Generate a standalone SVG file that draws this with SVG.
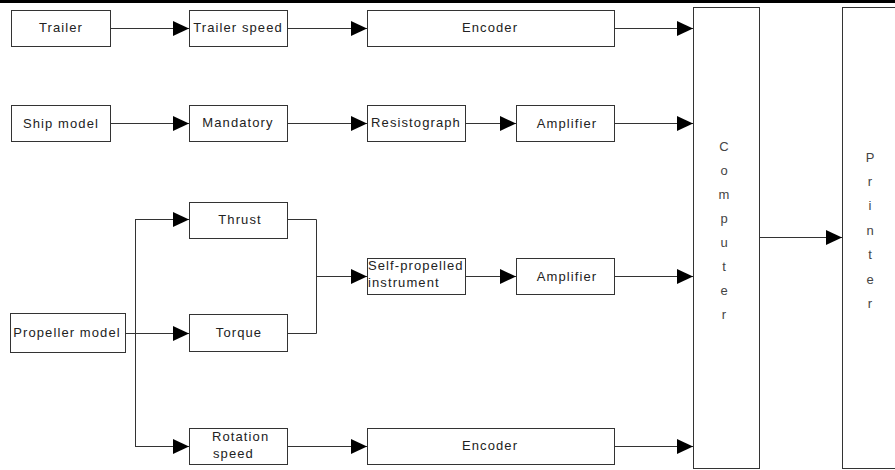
<svg xmlns="http://www.w3.org/2000/svg" width="895" height="470" viewBox="0 0 895 470">
<defs>
<marker id="ah" markerUnits="userSpaceOnUse" markerWidth="16" markerHeight="15" refX="16" refY="7.5" orient="auto">
<path d="M0,0 L16,7.5 L0,15 Z" fill="#000"/>
</marker>
<style>
.box{fill:#fff;stroke:#333;stroke-width:1}
.t{font-family:"Liberation Sans",Arial,sans-serif;font-size:13px;letter-spacing:1.1px;fill:#222}
.m{text-anchor:middle}
.v{font-family:"Liberation Sans",Arial,sans-serif;font-size:13px;fill:#444;text-anchor:middle}
.c{fill:none;stroke:#333;stroke-width:1}
</style>
</defs>
<rect x="0" y="0" width="895" height="3" fill="#000"/>
<g id="connectors">
<line class="c" x1="110" y1="28.5" x2="189" y2="28.5" marker-end="url(#ah)"/>
<line class="c" x1="287" y1="28.5" x2="367" y2="28.5" marker-end="url(#ah)"/>
<line class="c" x1="614" y1="28.5" x2="693" y2="28.5" marker-end="url(#ah)"/>
<line class="c" x1="110" y1="123.5" x2="189" y2="123.5" marker-end="url(#ah)"/>
<line class="c" x1="287" y1="123.5" x2="367" y2="123.5" marker-end="url(#ah)"/>
<line class="c" x1="465" y1="123.5" x2="516" y2="123.5" marker-end="url(#ah)"/>
<line class="c" x1="614" y1="123.5" x2="693" y2="123.5" marker-end="url(#ah)"/>
<line class="c" x1="135.5" y1="219" x2="135.5" y2="446"/>
<line class="c" x1="135" y1="219.5" x2="189" y2="219.5" marker-end="url(#ah)"/>
<line class="c" x1="125" y1="333.5" x2="189" y2="333.5" marker-end="url(#ah)"/>
<line class="c" x1="135" y1="446.5" x2="189" y2="446.5" marker-end="url(#ah)"/>
<polyline class="c" points="287,219.5 316.5,219.5 316.5,333.5 287,333.5"/>
<line class="c" x1="316" y1="276.5" x2="367" y2="276.5" marker-end="url(#ah)"/>
<line class="c" x1="465" y1="276.5" x2="516" y2="276.5" marker-end="url(#ah)"/>
<line class="c" x1="614" y1="276.5" x2="693" y2="276.5" marker-end="url(#ah)"/>
<line class="c" x1="287" y1="446.5" x2="367" y2="446.5" marker-end="url(#ah)"/>
<line class="c" x1="614" y1="446.5" x2="693" y2="446.5" marker-end="url(#ah)"/>
<line class="c" x1="759" y1="237.5" x2="842" y2="237.5" marker-end="url(#ah)"/>
</g>
<g id="trailer"><rect class="box" x="11.5" y="10.5" width="99" height="36"/><text class="t m" x="61" y="32">Trailer</text></g>
<g id="trailer-speed"><rect class="box" x="189.5" y="10.5" width="98" height="36"/><text class="t m" x="238" y="32">Trailer speed</text></g>
<g id="encoder-top"><rect class="box" x="367.5" y="10.5" width="247" height="36"/><text class="t m" x="490" y="32">Encoder</text></g>
<g id="ship-model"><rect class="box" x="11.5" y="105.5" width="99" height="36"/><text class="t m" x="61" y="128">Ship model</text></g>
<g id="mandatory"><rect class="box" x="189.5" y="105.5" width="98" height="36"/><text class="t m" x="238" y="127">Mandatory</text></g>
<g id="resistograph"><rect class="box" x="367.5" y="105.5" width="98" height="36"/><text class="t m" x="416" y="127">Resistograph</text></g>
<g id="amplifier-1"><rect class="box" x="516.5" y="105.5" width="98" height="36"/><text class="t m" x="567" y="128">Amplifier</text></g>
<g id="thrust"><rect class="box" x="189.5" y="202.5" width="98" height="36"/><text class="t m" x="240" y="224">Thrust</text></g>
<g id="propeller-model"><rect class="box" x="10.5" y="313.5" width="115" height="39"/><text class="t m" x="67" y="337">Propeller model</text></g>
<g id="torque"><rect class="box" x="189.5" y="314.5" width="98" height="37"/><text class="t m" x="239" y="337">Torque</text></g>
<g id="self-propelled"><rect class="box" x="367.5" y="258.5" width="98" height="36"/><text class="t" x="368" y="270">Self-propelled</text><text class="t" x="368" y="287">instrument</text></g>
<g id="amplifier-2"><rect class="box" x="516.5" y="258.5" width="98" height="36"/><text class="t m" x="567" y="281">Amplifier</text></g>
<g id="rotation-speed"><rect class="box" x="189.5" y="428.5" width="98" height="36"/><text class="t" x="212" y="441">Rotation</text><text class="t" x="213" y="458">speed</text></g>
<g id="encoder-bottom"><rect class="box" x="367.5" y="428.5" width="247" height="36"/><text class="t m" x="490" y="450">Encoder</text></g>
<g id="computer"><rect class="box" x="693.5" y="7.5" width="66" height="461"/>
<text class="v" x="724"><tspan x="724" y="151">C</tspan><tspan x="724" y="175">o</tspan><tspan x="724" y="199">m</tspan><tspan x="724" y="223">p</tspan><tspan x="724" y="247">u</tspan><tspan x="724" y="271">t</tspan><tspan x="724" y="295">e</tspan><tspan x="724" y="319">r</tspan></text></g>
<g id="printer"><rect class="box" x="842.5" y="7.5" width="57" height="461"/>
<text class="v" x="870"><tspan x="870" y="162">P</tspan><tspan x="870" y="186">r</tspan><tspan x="870" y="210">i</tspan><tspan x="870" y="235">n</tspan><tspan x="870" y="259">t</tspan><tspan x="870" y="284">e</tspan><tspan x="870" y="308">r</tspan></text></g>
</svg>
